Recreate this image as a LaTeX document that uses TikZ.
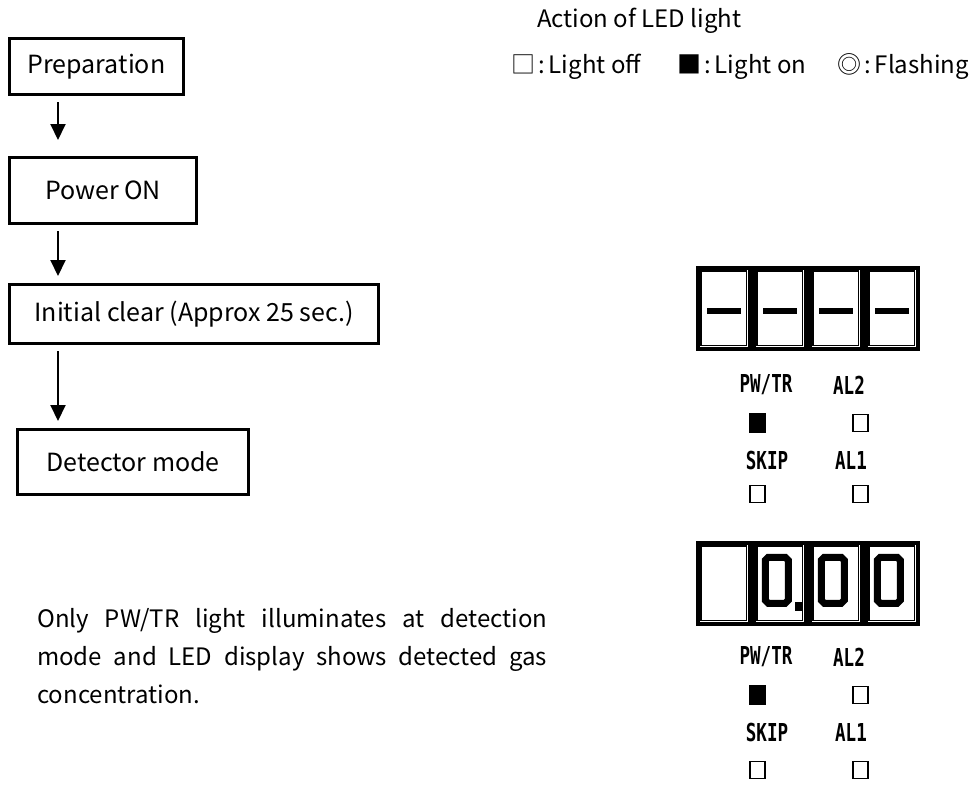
\documentclass[tikz,border=0pt]{standalone}
\usepackage{fontspec}
\setmainfont{Noto Sans CJK JP}
\newfontfamily\ledfont[FakeStretch=0.71]{DejaVu Sans Mono}
\usetikzlibrary{arrows.meta}
\tikzset{flowbox/.style={
    rectangle,
    draw,
    line width=3pt,
    anchor=north west,
    inner sep=0pt,
    font=\fontsize{25}{30}\selectfont
  },
  digbox/.style={rectangle,draw,line width=3.5pt,anchor=north west,
    inner sep=0pt,minimum width=52pt,minimum height=81pt},
  ledlabel/.style={font=\ledfont\bfseries\fontsize{24.7}{28}\selectfont,inner sep=0pt},
  ledoff/.style={rectangle,draw,line width=1.6pt,inner sep=0pt,
    minimum width=15pt,minimum height=17pt},
  ledon/.style={rectangle,fill=black,inner sep=0pt,
    minimum width=17pt,minimum height=20pt},
  legend/.style={anchor=base west,inner sep=0pt,font=\fontsize{24}{30}\selectfont},
  arr/.style={line width=2pt,-{Triangle[length=16pt,width=15pt]},
    shorten <=6pt,shorten >=7pt},
  zero/.style={line width=7pt,miter limit=10},
}

\begin{document}
\begin{tikzpicture}[x=1pt,y=-1pt]
  \useasboundingbox (0,0) rectangle (971,785);
  % flow chart
  \node [flowbox,minimum width=174pt,minimum height=56pt] (prep) at (8,37) {Preparation};
  \node [flowbox,minimum width=187pt,minimum height=66pt] (power) at (8,156) {Power ON};
  \node [flowbox,minimum width=369pt,minimum height=59pt] (init) at (8,283) {Initial clear (Approx 25 sec.)};
  \node [flowbox,minimum width=231pt,minimum height=65pt] (det) at (16,428) {Detector mode};
  \coordinate (ax) at (58,0);
  \draw[arr,shorten >=16pt] (prep.south -| ax) -- (power.north -| ax);
  \draw[arr] (power.south -| ax) -- (init.north -| ax);
  \draw[arr] (init.south -| ax) -- (det.north -| ax);

  \node [anchor=north west,inner sep=0pt,text width=510pt,align=justify,
    font=\fontsize{24}{38}\selectfont] (note) at (37,608)
    {Only PW/TR light illuminates at detection mode and LED display shows detected gas concentration.};

  % legend
  \node [legend] (title) at (537,27) {Action of LED light};
  \node [legend] (loff) at (511,73) {□\kern3pt:\kern4pt Light off};
  \node [legend] (lon) at (677,73) {■\kern3pt:\kern4pt Light on};
  \node [legend] (lfl) at (837,73) {◎\kern3pt:\kern4pt Flashing};

  % display before detection
  \foreach \i in {1,...,4} {
    \node [digbox] (a\i) at ({640+56*\i},266) {};
    \draw[line width=1.2pt] ([shift={(5,5)}]a\i.north west) rectangle ([shift={(-5,-5)}]a\i.south east);
    \fill ([shift={(-17,-0.5)}]a\i.center) rectangle ([shift={(17,5.5)}]a\i.center);
  }
  \node [ledlabel] (apw) at (766,385) {PW/TR};
  \node [ledlabel] (aal2) at (849,385) {AL2};
  \node [ledon] (apwled) at (757.5,423) {};
  \node [ledoff] (aal2led) at (860.5,423) {};
  \node [ledlabel] (askip) at (767,460) {SKIP};
  \node [ledlabel] (aal1) at (851,460) {AL1};
  \node [ledoff] (askipled) at (757.5,494) {};
  \node [ledoff] (aal1led) at (860.5,494) {};

  % display at detection
  \foreach \i in {1,...,4} {
    \node [digbox] (b\i) at ({640+56*\i},541) {};
    \draw[line width=1.2pt] ([shift={(5,5)}]b\i.north west) rectangle ([shift={(-5,-5)}]b\i.south east);
  }
  \foreach \i in {2,3,4} {
    \begin{scope}[shift={(b\i.center)},shift={(-3,-3)}]
      \draw[zero] (-8.5,-23) -- (8.5,-23) -- (11.5,-20) -- (11.5,20) -- (8.5,23)
        -- (-8.5,23) -- (-11.5,20) -- (-11.5,-20) -- cycle;
    \end{scope}
  }
  \fill ([shift={(15,18.5)}]b2.center) rectangle ([shift={(22,27.5)}]b2.center);
  \node [ledlabel] (bpw) at (766,657) {PW/TR};
  \node [ledlabel] (bal2) at (849,657) {AL2};
  \node [ledon] (bpwled) at (757.5,695) {};
  \node [ledoff] (bal2led) at (860.5,695) {};
  \node [ledlabel] (bskip) at (767,732) {SKIP};
  \node [ledlabel] (bal1) at (851,732) {AL1};
  \node [ledoff] (bskipled) at (757.5,770) {};
  \node [ledoff] (bal1led) at (860.5,770) {};
\end{tikzpicture}
\end{document}
